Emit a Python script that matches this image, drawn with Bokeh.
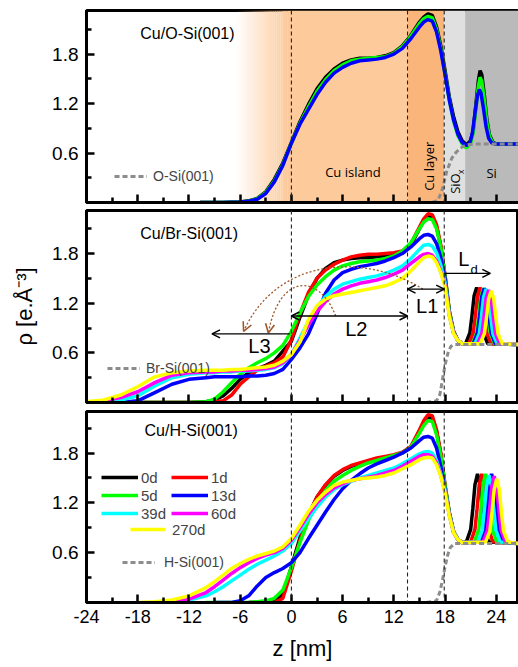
from bokeh.plotting import figure
from bokeh.layouts import column
from bokeh.models import (Range1d, FixedTicker, Span, BoxAnnotation, Label, Arrow,
                          OpenHead, Legend, LegendItem, CustomLabelingPolicy)
from bokeh.embed import file_html
from bokeh.resources import INLINE

N = float("nan")

# ---------------- axis ticks ----------------
X_TICKS = [-24, -18, -12, -6, 0, 6, 12, 18, 24]
X_MINOR = [-21, -15, -9, -3, 3, 9, 15, 21]
Y_TICKS = [0.6, 1.2, 1.8]
Y_MINOR = [0.3, 0.9, 1.5, 2.1]
X_LABELS = {-24: "-24", -18: "-18", -12: "-12", -6: "-6", 0: "0", 6: "6", 12: "12", 18: "18", 24: "24"}
Y_LABELS = {0.6: "0.6", 1.2: "1.2", 1.8: "1.8"}

SERIES = ["0d", "1d", "5d", "13d", "39d", "60d", "270d"]
COLORS = {"0d": "#000000", "1d": "#ff0000", "5d": "#00ff00", "13d": "#0000ff",
          "39d": "#00ffff", "60d": "#ff00ff", "270d": "#ffff00"}

# ---------------- Cu/O-Si(001) ----------------
Z_TOP = [-10.7, -8, -6, -5, -4, -3, -2, -1, 0, 1, 2, 3, 4, 5, 6, 7, 8, 9, 10, 11, 12, 13, 14, 15,
         15.5, 16, 16.5, 17, 17.5, 18, 18.5, 19, 19.5, 20, 20.5]
O_0D = [0, 0, 0.005, 0.02, 0.05, 0.13, 0.28, 0.48, 0.73, 0.98, 1.19, 1.38, 1.52, 1.62, 1.69, 1.73,
        1.75, 1.75, 1.76, 1.78, 1.82, 1.9, 2.03, 2.19, 2.25, 2.29, 2.27, 2.13, 1.9, 1.6, 1.28, 1.04,
        0.86, 0.75, 0.70]
O_5D = [0, 0, 0.005, 0.015, 0.045, 0.12, 0.26, 0.46, 0.72, 0.96, 1.16, 1.35, 1.49, 1.6, 1.67, 1.72,
        1.74, 1.75, 1.76, 1.77, 1.81, 1.89, 2.02, 2.17, 2.23, 2.26, 2.24, 2.1, 1.86, 1.56, 1.24, 0.99,
        0.81, 0.71, 0.66]
O_13D = [0, 0, 0.005, 0.015, 0.04, 0.11, 0.25, 0.45, 0.72, 0.95, 1.13, 1.31, 1.46, 1.57, 1.64, 1.69,
         1.72, 1.73, 1.74, 1.76, 1.8, 1.87, 1.99, 2.13, 2.19, 2.22, 2.2, 2.07, 1.84, 1.55, 1.24, 1.0,
         0.83, 0.73, 0.69]
O_0D_PZ = [21.0, 21.3, 21.6, 21.9, 22.1, 22.3, 22.6, 22.9, 23.2, 23.6, 24.0, 26.6]
O_0D_PR = [0.75, 0.88, 1.18, 1.48, 1.6, 1.55, 1.3, 1.0, 0.82, 0.73, 0.71, 0.71]
O_5D_PZ = [21.0, 21.3, 21.6, 21.9, 22.1, 22.3, 22.6, 22.9, 23.2, 23.6, 24.0, 26.6]
O_5D_PR = [0.72, 0.85, 1.13, 1.41, 1.52, 1.47, 1.24, 0.96, 0.8, 0.72, 0.71, 0.71]
O_13D_PZ = [20.9, 21.2, 21.5, 21.8, 22.0, 22.2, 22.5, 22.8, 23.1, 23.5, 23.9, 26.6]
O_13D_PR = [0.72, 0.84, 1.08, 1.3, 1.37, 1.33, 1.14, 0.92, 0.78, 0.72, 0.71, 0.71]
O_SUB_Z = [16.5, 17.2, 17.7, 18.2, 18.8, 19.3, 19.8, 20.5, 21.5, 26.6]
O_SUB = [0, 0.03, 0.17, 0.38, 0.54, 0.61, 0.66, 0.70, 0.71, 0.71]

# ---------------- shared grid for Br / H panels ----------------
Z_GRID = [-24, -22, -20, -18, -16, -14, -12, -10,
          -9, -8, -7, -6, -5, -4, -3, -2, -1,
          0, 1, 2, 3, 4, 5, 6, 7, 8, 9, 10, 11, 12, 13, 14,
          15, 15.5, 16, 16.5, 17, 17.5, 18, 18.5, 19, 19.5, 20]

# ---------------- Cu/Br-Si(001) ----------------
BR_0D = [N, N, N, 0, 0, 0, 0, 0.01,
         0.03, 0.08, 0.17, 0.28, 0.36, 0.41, 0.45, 0.5, 0.62,
         0.74, 1.03, 1.3, 1.5, 1.62, 1.69, 1.72, 1.74, 1.75, 1.75, 1.76, 1.77, 1.78, 1.81, 1.9,
         2.1, 2.2, 2.25, 2.24, 2.12, 1.88, 1.52, 1.1, 0.86, 0.75, 0.71]
BR_1D = [N, N, N, 0, 0, 0, 0, 0,
         0.01, 0.02, 0.09, 0.22, 0.31, 0.39, 0.44, 0.48, 0.55,
         0.76, 1.07, 1.33, 1.5, 1.6, 1.67, 1.72, 1.76, 1.78, 1.79, 1.79, 1.8, 1.81, 1.83, 1.92,
         2.12, 2.22, 2.28, 2.27, 2.15, 1.9, 1.53, 1.1, 0.85, 0.75, 0.71]
BR_5D = [N, N, N, 0, 0, 0, 0, 0.01,
         0.04, 0.13, 0.24, 0.34, 0.42, 0.48, 0.53, 0.6, 0.69,
         0.86, 1.08, 1.28, 1.42, 1.52, 1.6, 1.65, 1.68, 1.7, 1.71, 1.72, 1.74, 1.77, 1.83, 1.93,
         2.1, 2.18, 2.22, 2.21, 2.1, 1.87, 1.52, 1.1, 0.85, 0.75, 0.71]
BR_13D = [0, 0, 0, 0.02, 0.12, 0.22, 0.28, 0.3,
          0.31, 0.31, 0.31, 0.31, 0.32, 0.32, 0.33, 0.35, 0.4,
          0.52, 0.66, 0.83, 1.07, 1.32, 1.48, 1.57, 1.61, 1.64, 1.66, 1.68, 1.71, 1.75, 1.8, 1.88,
          1.98, 2.02, 2.03, 2.01, 1.92, 1.75, 1.5, 1.08, 0.84, 0.75, 0.71]
BR_39D = [0, 0.01, 0.03, 0.08, 0.2, 0.3, 0.34, 0.36,
          0.36, 0.37, 0.37, 0.38, 0.38, 0.39, 0.4, 0.42, 0.47,
          0.58, 0.78, 0.98, 1.15, 1.28, 1.37, 1.43, 1.46, 1.49, 1.51, 1.53, 1.56, 1.6, 1.65, 1.74,
          1.85, 1.9, 1.91, 1.89, 1.81, 1.66, 1.45, 1.06, 0.84, 0.75, 0.71]
BR_60D = [0, 0.02, 0.06, 0.13, 0.24, 0.33, 0.36, 0.37,
          0.37, 0.38, 0.38, 0.39, 0.39, 0.4, 0.41, 0.43, 0.48,
          0.58, 0.75, 0.94, 1.1, 1.22, 1.31, 1.37, 1.41, 1.44, 1.46, 1.48, 1.51, 1.55, 1.6, 1.68,
          1.76, 1.79, 1.8, 1.78, 1.71, 1.58, 1.42, 1.05, 0.84, 0.75, 0.71]
BR_270D = [0.01, 0.03, 0.09, 0.19, 0.31, 0.36, 0.38, 0.39,
           0.39, 0.39, 0.4, 0.4, 0.41, 0.42, 0.43, 0.45, 0.5,
           0.58, 0.73, 1.0, 1.17, 1.25, 1.29, 1.31, 1.33, 1.35, 1.37, 1.39, 1.41, 1.45, 1.5, 1.59,
           1.7, 1.75, 1.77, 1.76, 1.69, 1.57, 1.4, 1.04, 0.83, 0.75, 0.71]
# Si peaks (Br)
BR_0D_PZ = [20.4, 20.9, 21.15, 21.4, 21.7, 22.0, 22.25, 22.5, 23.0, 26.6]
BR_0D_PR = [0.71, 0.84, 1.05, 1.29, 1.39, 1.29, 1.05, 0.84, 0.71, 0.70]
BR_1D_PZ = [20.8, 21.3, 21.55, 21.8, 22.1, 22.4, 22.65, 22.9, 23.4, 26.6]
BR_1D_PR = [0.71, 0.84, 1.05, 1.29, 1.39, 1.29, 1.05, 0.84, 0.71, 0.70]
BR_5D_PZ = [21.2, 21.7, 21.95, 22.2, 22.5, 22.8, 23.05, 23.3, 23.8, 26.6]
BR_5D_PR = [0.71, 0.84, 1.04, 1.28, 1.38, 1.28, 1.04, 0.84, 0.71, 0.70]
BR_13D_PZ = [21.3, 21.8, 22.05, 22.3, 22.6, 22.9, 23.15, 23.4, 23.9, 26.6]
BR_13D_PR = [0.71, 0.84, 1.04, 1.28, 1.38, 1.28, 1.04, 0.84, 0.71, 0.70]
BR_39D_PZ = [21.5, 22.0, 22.25, 22.5, 22.8, 23.1, 23.35, 23.6, 24.1, 26.6]
BR_39D_PR = [0.71, 0.83, 1.03, 1.27, 1.37, 1.27, 1.03, 0.83, 0.71, 0.70]
BR_60D_PZ = [21.8, 22.3, 22.55, 22.8, 23.1, 23.4, 23.65, 23.9, 24.4, 26.6]
BR_60D_PR = [0.71, 0.83, 1.03, 1.26, 1.36, 1.26, 1.03, 0.83, 0.71, 0.70]
BR_270D_PZ = [22.1, 22.6, 22.85, 23.1, 23.4, 23.7, 23.95, 24.2, 24.7, 26.6]
BR_270D_PR = [0.71, 0.83, 1.02, 1.25, 1.35, 1.25, 1.02, 0.83, 0.71, 0.70]
BR_SUB_Z = [15.8, 17.0, 17.4, 17.8, 18.1, 18.4, 18.7, 19.1, 26.6]
BR_SUB = [0, 0.02, 0.1, 0.34, 0.5, 0.62, 0.68, 0.70, 0.70]

# ---------------- Cu/H-Si(001) ----------------
H_0D = [N, N, N, N, N, N, N, N,
        N, N, N, N, 0, 0, 0, 0.01, 0.1,
        0.43, 0.78, 1.06, 1.27, 1.41, 1.52, 1.59, 1.64, 1.67, 1.7, 1.72, 1.75, 1.77, 1.8, 1.87,
        2.06, 2.16, 2.23, 2.22, 2.06, 1.78, 1.4, 1.08, 0.85, 0.76, 0.72]
H_1D = [N, N, N, N, N, N, N, N,
        N, N, N, N, 0, 0, 0, 0, 0.05,
        0.38, 0.75, 1.05, 1.27, 1.42, 1.53, 1.6, 1.65, 1.68, 1.71, 1.74, 1.76, 1.78, 1.81, 1.88,
        2.08, 2.19, 2.26, 2.25, 2.08, 1.8, 1.41, 1.08, 0.85, 0.76, 0.72]
H_5D = [N, N, N, N, N, N, N, 0,
        0, 0, 0, 0, 0, 0.01, 0.02, 0.05, 0.15,
        0.42, 0.72, 0.99, 1.2, 1.35, 1.46, 1.53, 1.59, 1.64, 1.68, 1.71, 1.74, 1.77, 1.8, 1.87,
        2.04, 2.13, 2.19, 2.18, 2.02, 1.76, 1.4, 1.08, 0.85, 0.76, 0.72]
H_13D = [N, N, N, N, N, N, N, N,
         0, 0, 0, 0.02, 0.08, 0.2, 0.3, 0.36, 0.41,
         0.48, 0.6, 0.77, 0.93, 1.09, 1.24, 1.37, 1.47, 1.55, 1.62, 1.67, 1.71, 1.75, 1.8, 1.86,
         1.95, 1.99, 2.0, 1.98, 1.86, 1.64, 1.36, 1.07, 0.85, 0.76, 0.72]
H_39D = [N, N, N, N, N, 0, 0.03, 0.08,
         0.13, 0.19, 0.26, 0.33, 0.4, 0.46, 0.51, 0.56, 0.62,
         0.71, 0.86, 1.01, 1.15, 1.27, 1.36, 1.42, 1.46, 1.5, 1.53, 1.56, 1.59, 1.62, 1.67, 1.73,
         1.79, 1.81, 1.82, 1.8, 1.71, 1.55, 1.35, 1.06, 0.85, 0.76, 0.72]
H_60D = [N, N, N, N, N, 0, 0.04, 0.12,
         0.19, 0.27, 0.35, 0.42, 0.48, 0.53, 0.57, 0.6, 0.65,
         0.75, 0.9, 1.06, 1.2, 1.3, 1.38, 1.43, 1.47, 1.49, 1.51, 1.53, 1.56, 1.59, 1.64, 1.7,
         1.76, 1.78, 1.78, 1.76, 1.68, 1.53, 1.33, 1.05, 0.84, 0.76, 0.72]
H_270D = [N, N, N, 0, 0.01, 0.03, 0.08, 0.18,
          0.25, 0.33, 0.41, 0.47, 0.52, 0.56, 0.59, 0.62, 0.67,
          0.77, 0.93, 1.1, 1.23, 1.33, 1.41, 1.45, 1.47, 1.49, 1.5, 1.51, 1.53, 1.56, 1.61, 1.66,
          1.72, 1.74, 1.75, 1.74, 1.66, 1.52, 1.32, 1.04, 0.84, 0.76, 0.72]
# Si peaks (H)
H_0D_PZ = [20.5, 21.0, 21.25, 21.5, 21.8, 22.1, 22.35, 22.6, 23.1, 26.6]
H_0D_PR = [0.73, 0.88, 1.13, 1.42, 1.55, 1.42, 1.13, 0.88, 0.73, 0.71]
H_1D_PZ = [21.0, 21.5, 21.75, 22.0, 22.3, 22.6, 22.85, 23.1, 23.6, 26.6]
H_1D_PR = [0.73, 0.88, 1.13, 1.42, 1.55, 1.42, 1.13, 0.88, 0.73, 0.71]
H_5D_PZ = [21.45, 21.95, 22.2, 22.45, 22.75, 23.05, 23.3, 23.55, 24.05, 26.6]
H_5D_PR = [0.73, 0.88, 1.13, 1.42, 1.55, 1.42, 1.13, 0.88, 0.73, 0.71]
H_13D_PZ = [22.15, 22.65, 22.9, 23.15, 23.45, 23.75, 24.0, 24.25, 24.75, 26.6]
H_13D_PR = [0.73, 0.88, 1.13, 1.42, 1.55, 1.42, 1.13, 0.88, 0.73, 0.71]
H_39D_PZ = [21.85, 22.35, 22.6, 22.85, 23.15, 23.45, 23.7, 23.95, 24.45, 26.6]
H_39D_PR = [0.73, 0.87, 1.12, 1.4, 1.53, 1.4, 1.12, 0.87, 0.73, 0.71]
H_60D_PZ = [22.45, 22.95, 23.2, 23.45, 23.75, 24.05, 24.3, 24.55, 25.05, 26.6]
H_60D_PR = [0.73, 0.87, 1.11, 1.39, 1.52, 1.39, 1.11, 0.87, 0.73, 0.71]
H_270D_PZ = [22.75, 23.25, 23.5, 23.75, 24.05, 24.35, 24.6, 24.85, 25.35, 26.6]
H_270D_PR = [0.73, 0.86, 1.09, 1.36, 1.49, 1.36, 1.09, 0.86, 0.73, 0.71]
H_SUB_Z = [15.8, 17.0, 17.4, 17.7, 18.0, 18.3, 18.6, 19.1, 26.6]
H_SUB = [0, 0.02, 0.13, 0.27, 0.43, 0.57, 0.66, 0.71, 0.71]

# ---------------- style ----------------
FONT = "Liberation Sans"
SOFT = "Open Sans"
BROWN = "#a0582a"
SUB_COLOR = "#8c8c8c"
LW = 3.5
XR = Range1d(-24, 26.6)
DASH_LINES = [0, 13.6, 17.9]
NO_LABELS = "for (const i of indices) indices.unset(i)"


def make_panel(height, top_b, bottom_b, y_end, show_labels):
    p = figure(width=518, height=height, x_range=XR, y_range=Range1d(0, y_end),
               output_backend="svg", toolbar_location=None,
               min_border_left=86, min_border_right=0,
               min_border_top=top_b, min_border_bottom=bottom_b)
    p.xgrid.visible = False
    p.ygrid.visible = False
    p.outline_line_color = "black"
    p.outline_line_width = 3
    p.outline_line_alpha = 1
    p.background_fill_color = "white"
    p.border_fill_color = "white"
    p.xaxis.ticker = FixedTicker(ticks=X_TICKS, minor_ticks=X_MINOR)
    p.yaxis.ticker = FixedTicker(ticks=Y_TICKS, minor_ticks=Y_MINOR)
    p.xaxis.major_label_overrides = X_LABELS
    p.yaxis.major_label_overrides = Y_LABELS
    for ax in (p.xaxis[0], p.yaxis[0]):
        ax.axis_line_width = 3
        ax.axis_line_color = "black"
        ax.major_tick_in = 8
        ax.major_tick_out = 0
        ax.minor_tick_in = 5
        ax.minor_tick_out = 0
        ax.major_tick_line_width = 2.5
        ax.minor_tick_line_width = 2.5
        ax.major_tick_line_color = "black"
        ax.minor_tick_line_color = "black"
        ax.major_label_text_font = FONT
        ax.major_label_text_color = "black"
    p.yaxis.major_label_text_font_size = "19px"
    p.yaxis.major_label_standoff = 8
    if show_labels:
        p.xaxis.major_label_text_font_size = "18px"
        p.xaxis.major_label_standoff = 7
    else:
        p.xaxis.major_label_text_font_size = "1px"
        p.xaxis.major_label_standoff = 0
        p.xaxis.major_label_policy = CustomLabelingPolicy(code=NO_LABELS)
    for loc in DASH_LINES:
        p.add_layout(Span(location=loc, dimension="height", line_color="#222222",
                          line_width=1.1, line_dash="4 3"))
    return p


def curves(p, grid, series, peaks):
    rends = {}
    for name, vals, pz, pr in zip(SERIES, series, peaks[0], peaks[1]):
        r = p.line(list(grid) + pz, list(vals) + pr, line_color=COLORS[name], line_width=LW)
        rends[name] = r
    return rends


def panel_title(p, x, y, text):
    p.add_layout(Label(x=x, y=y, text=text, text_font=FONT, text_font_size="16px",
                       text_baseline="middle", text_align="left", text_color="black"))


def sub_legend(p, r, label, loc, standoff):
    leg = Legend(items=[LegendItem(label=label, renderers=[r])], location=loc,
                 glyph_width=33, glyph_height=18, label_height=18, label_standoff=standoff,
                 label_text_font=FONT, label_text_font_size="14px", padding=0, margin=0,
                 border_line_alpha=0, background_fill_alpha=0, spacing=0)
    p.add_layout(leg)


# ================= TOP PANEL =================
p1 = make_panel(208, 10, 6, 2.33, False)
CU_ISLAND = "#fdca9c"
n_steps = 24
for i in range(n_steps):
    left = -6.5 + 6.0 * i / n_steps
    right = -6.5 + 6.0 * (i + 1) / n_steps
    p1.add_layout(BoxAnnotation(left=left, right=right, fill_color=CU_ISLAND,
                                fill_alpha=(i + 0.5) / n_steps, line_alpha=0, level="underlay"))
p1.add_layout(BoxAnnotation(left=-0.5, right=13.6, fill_color=CU_ISLAND, fill_alpha=1,
                            line_alpha=0, level="underlay"))
p1.add_layout(BoxAnnotation(left=13.6, right=17.9, fill_color="#fab57b", fill_alpha=1,
                            line_alpha=0, level="underlay"))
p1.add_layout(BoxAnnotation(left=17.9, right=20.35, fill_color="#e0e0e0", fill_alpha=1,
                            line_alpha=0, level="underlay"))
p1.add_layout(BoxAnnotation(left=20.35, right=30, fill_color="#bababa", fill_alpha=1,
                            line_alpha=0, level="underlay"))

p1.line(Z_TOP + O_0D_PZ, O_0D + O_0D_PR, line_color=COLORS["0d"], line_width=LW)
p1.line(Z_TOP + O_5D_PZ, O_5D + O_5D_PR, line_color=COLORS["5d"], line_width=LW)
p1.line(Z_TOP + O_13D_PZ, O_13D + O_13D_PR, line_color=COLORS["13d"], line_width=LW)
r_osub = p1.line(O_SUB_Z, O_SUB, line_color=SUB_COLOR, line_width=3, line_dash="5 3")

panel_title(p1, -17.7, 2.05, "Cu/O-Si(001)")
sub_legend(p1, r_osub, "O-Si(001)", (28, 17), 6)
p1.add_layout(Label(x=7.2, y=0.37, text="Cu island", text_font=SOFT, text_font_size="13px",
                    text_align="center", text_baseline="middle", text_color="black"))
p1.add_layout(Label(x=16.1, y=0.44, text="Cu layer", text_font=SOFT, text_font_size="13px",
                    text_align="center", text_baseline="middle", angle=1.5708, text_color="black"))
p1.add_layout(Label(x=19.2, y=0.23, text="SiO", text_font=SOFT, text_font_size="13px",
                    text_align="center", text_baseline="middle", angle=1.5708, text_color="black"))
p1.add_layout(Label(x=19.8, y=0.37, text="x", text_font=SOFT, text_font_size="9px",
                    text_align="center", text_baseline="middle", angle=1.5708, text_color="black"))
p1.add_layout(Label(x=23.45, y=0.36, text="Si", text_font=SOFT, text_font_size="13px",
                    text_align="center", text_baseline="middle", text_color="black"))

# ================= MIDDLE PANEL =================
p2 = make_panel(201, 2, 7, 2.32, False)
curves(p2, Z_GRID, [BR_0D, BR_1D, BR_5D, BR_13D, BR_39D, BR_60D, BR_270D],
       ([BR_0D_PZ, BR_1D_PZ, BR_5D_PZ, BR_13D_PZ, BR_39D_PZ, BR_60D_PZ, BR_270D_PZ],
        [BR_0D_PR, BR_1D_PR, BR_5D_PR, BR_13D_PR, BR_39D_PR, BR_60D_PR, BR_270D_PR]))
r_brsub = p2.line(BR_SUB_Z, BR_SUB, line_color=SUB_COLOR, line_width=3, line_dash="5 3")
panel_title(p2, -17.7, 2.04, "Cu/Br-Si(001)")
sub_legend(p2, r_brsub, "Br-Si(001)", (21, 25), 6)
p2.yaxis.axis_label = "ρ [e.Å⁻³]"
p2.yaxis.axis_label_text_font = FONT
p2.yaxis.axis_label_text_font_size = "22px"
p2.yaxis.axis_label_text_font_style = "normal"
p2.yaxis.axis_label_text_color = "black"
p2.yaxis.axis_label_standoff = 12

# dotted brown arcs
p2.bezier(x0=[15.4, 5.2], y0=[1.37, 1.045], x1=[-5.6, -2.7], y1=[0.86, 0.84],
          cx0=[9.0, 3.2], cy0=[1.79, 1.565], cx1=[-1.5, -1.4], cy1=[1.79, 1.565],
          line_color=BROWN, line_width=1.3, line_dash="2 2")
p2.add_layout(Arrow(x_start=-5.19, y_start=0.953, x_end=-5.6, y_end=0.86, line_alpha=0,
                    end=OpenHead(size=9, line_color=BROWN, line_width=1.6)))
p2.add_layout(Arrow(x_start=-2.57, y_start=0.912, x_end=-2.7, y_end=0.84, line_alpha=0,
                    end=OpenHead(size=9, line_color=BROWN, line_width=1.6)))
# black dimension arrows
p2.add_layout(Arrow(x_start=13.6, y_start=1.37, x_end=17.9, y_end=1.37, line_width=1.3,
                    start=OpenHead(size=8, line_width=1.5), end=OpenHead(size=8, line_width=1.5)))
p2.add_layout(Arrow(x_start=0.0, y_start=1.045, x_end=13.6, y_end=1.045, line_width=1.3,
                    start=OpenHead(size=8, line_width=1.5), end=OpenHead(size=8, line_width=1.5)))
p2.add_layout(Arrow(x_start=-0.2, y_start=0.83, x_end=-9.3, y_end=0.83, line_width=1.3,
                    end=OpenHead(size=8, line_width=1.5)))
p2.add_layout(Arrow(x_start=17.9, y_start=1.56, x_end=23.3, y_end=1.56, line_width=1.3,
                    end=OpenHead(size=8, line_width=1.5)))
for tx, ty, tt, fs in [(15.9, 1.17, "L1", "20px"), (7.6, 0.89, "L2", "20px"),
                       (-3.75, 0.68, "L3", "20px"), (20.2, 1.73, "L", "20px"),
                       (21.4, 1.61, "d", "13px")]:
    p2.add_layout(Label(x=tx, y=ty, text=tt, text_font=FONT, text_font_size=fs,
                        text_align="center", text_baseline="middle", text_color="black"))

# ================= BOTTOM PANEL =================
p3 = make_panel(258, 2, 65, 2.30, True)
rends = curves(p3, Z_GRID, [H_0D, H_1D, H_5D, H_13D, H_39D, H_60D, H_270D],
               ([H_0D_PZ, H_1D_PZ, H_5D_PZ, H_13D_PZ, H_39D_PZ, H_60D_PZ, H_270D_PZ],
                [H_0D_PR, H_1D_PR, H_5D_PR, H_13D_PR, H_39D_PR, H_60D_PR, H_270D_PR]))
r_hsub = p3.line(H_SUB_Z, H_SUB, line_color=SUB_COLOR, line_width=3, line_dash="5 3")
panel_title(p3, -17.2, 2.07, "Cu/H-Si(001)")
sub_legend(p3, r_hsub, "H-Si(001)", (36, 31), 9)
p3.xaxis.axis_label = "z [nm]"
p3.xaxis.axis_label_text_font = FONT
p3.xaxis.axis_label_text_font_size = "22px"
p3.xaxis.axis_label_text_font_style = "normal"
p3.xaxis.axis_label_text_color = "black"
p3.xaxis.axis_label_standoff = 10

# column-major legend: first column 0d/5d/39d, second column 1d/13d/60d
LEGEND_ORDER = ["0d", "5d", "39d", "1d", "13d", "60d"]
main_items = [LegendItem(label=s, renderers=[rends[s]]) for s in LEGEND_ORDER]
leg_main = Legend(items=main_items, location=(15, 80), ncols=2, orientation="vertical",
                  glyph_width=37, glyph_height=18, label_height=18, label_width=30,
                  label_standoff=3, label_text_font=FONT, label_text_font_size="15px",
                  padding=0, margin=0, spacing=0, border_line_alpha=0,
                  background_fill_alpha=0)
p3.add_layout(leg_main)
leg_270 = Legend(items=[LegendItem(label="270d", renderers=[rends["270d"]])], location=(44, 64),
                 glyph_width=35, glyph_height=18, label_height=18, label_standoff=7,
                 label_text_font=FONT, label_text_font_size="15px", padding=0, margin=0,
                 spacing=0, border_line_alpha=0, background_fill_alpha=0)
p3.add_layout(leg_270)

layout = column(p1, p2, p3, spacing=0)
open("out.html", "w").write(file_html(layout, INLINE))
